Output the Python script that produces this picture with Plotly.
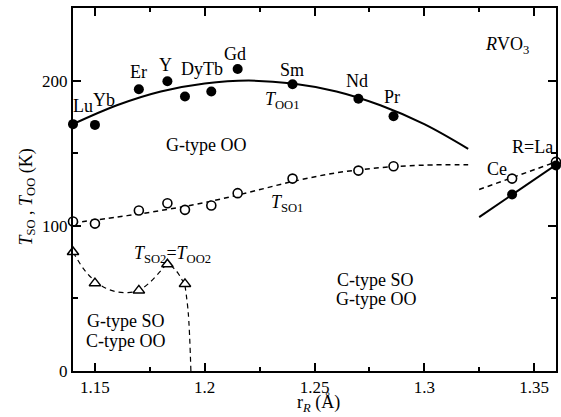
import plotly.graph_objects as go

# ---- data ----
elements = ["Lu", "Yb", "Er", "Y", "Dy", "Tb", "Gd", "Sm", "Nd", "Pr", "Ce", "La"]
r_R = [1.14, 1.15, 1.17, 1.183, 1.191, 1.203, 1.215, 1.24, 1.27, 1.286, 1.34, 1.36]
T_OO1 = [170, 169.5, 194, 199.5, 189, 192.5, 208, 197.5, 187.5, 175.5, 121.5, 141.5]
T_SO1 = [103, 101.5, 110.5, 115.5, 111, 114, 122.5, 132.5, 138, 141, 132.5, 144]

r_SO2 = [1.14, 1.15, 1.17, 1.183, 1.191]
T_SO2 = [82, 60.5, 55.5, 73.5, 60]

# guide curves
oo1_curve_x = [1.14, 1.16, 1.18, 1.20, 1.22, 1.24, 1.26, 1.28, 1.30, 1.32]
oo1_curve_y = [170, 183, 192.5, 198, 200, 198, 192.5, 183, 170, 153]
oo1_la_x = [1.325, 1.36]
oo1_la_y = [106, 142]

so1_curve_x = [1.14, 1.16, 1.18, 1.20, 1.22, 1.24, 1.26, 1.28, 1.30, 1.32]
so1_curve_y = [102, 106, 110.5, 116, 123, 130.5, 136.5, 140, 141.8, 142]
so1_la_x = [1.325, 1.36]
so1_la_y = [125, 144]

so2_curve_x = [1.14, 1.145, 1.15, 1.155, 1.16, 1.165, 1.17, 1.175, 1.18, 1.183, 1.187, 1.191]
so2_curve_y = [82, 70, 62, 57, 54.5, 54, 55.5, 61, 69, 73.5, 69, 59]
so2_drop_x = [1.191, 1.1925, 1.1937]
so2_drop_y = [59, 40, 0]

FONT = "Liberation Serif"
BLACK = "black"

fig = go.Figure()

# lines
fig.add_trace(go.Scatter(x=oo1_curve_x, y=oo1_curve_y, mode="lines", line_shape="spline",
                         line=dict(color=BLACK, width=2), hoverinfo="skip"))
fig.add_trace(go.Scatter(x=oo1_la_x, y=oo1_la_y, mode="lines",
                         line=dict(color=BLACK, width=2), hoverinfo="skip"))
fig.add_trace(go.Scatter(x=so1_curve_x, y=so1_curve_y, mode="lines", line_shape="spline",
                         line=dict(color=BLACK, width=1.5, dash="5px,4px"), hoverinfo="skip"))
fig.add_trace(go.Scatter(x=so1_la_x, y=so1_la_y, mode="lines",
                         line=dict(color=BLACK, width=1.5, dash="5px,4px"), hoverinfo="skip"))
fig.add_trace(go.Scatter(x=so2_curve_x, y=so2_curve_y, mode="lines", line_shape="spline",
                         line=dict(color=BLACK, width=1.2, dash="5px,4px"), hoverinfo="skip"))
fig.add_trace(go.Scatter(x=so2_drop_x, y=so2_drop_y, mode="lines", line_shape="spline",
                         line=dict(color=BLACK, width=1.2, dash="5px,4px"), hoverinfo="skip"))

# markers
fig.add_trace(go.Scatter(x=r_R, y=T_SO1, mode="markers", cliponaxis=False,
                         marker=dict(symbol="circle", size=9, color="white",
                                     line=dict(color=BLACK, width=1.6))))
fig.add_trace(go.Scatter(x=r_R, y=T_OO1, mode="markers", cliponaxis=False,
                         marker=dict(symbol="circle", size=10, color=BLACK)))
fig.add_trace(go.Scatter(x=r_SO2, y=T_SO2, mode="markers", cliponaxis=False,
                         marker=dict(symbol="triangle-up", size=10, color="white",
                                     line=dict(color=BLACK, width=1.5))))

# text labels
labels = [
    ("Lu", 1.1444, 182.5), ("Yb", 1.1543, 186.6), ("Er", 1.1699, 205.7), ("Y", 1.1823, 210.7),
    ("DyTb", 1.1987, 207.8), ("Gd", 1.2138, 218.3), ("Sm", 1.2398, 207.3), ("Nd", 1.2693, 199.9),
    ("Pr", 1.2852, 188.9), ("<i>T</i><sub>OO1</sub>", 1.2355, 186.0),
    ("<i>R</i>VO<sub>3</sub>", 1.3378, 224.5), ("R=La", 1.3491, 154.5), ("Ce", 1.3332, 139.1),
    ("G-type OO", 1.2007, 155.6), ("<i>T</i><sub>SO1</sub>", 1.2375, 115.5),
    ("<i>T</i><sub>SO2</sub>=<i>T</i><sub>OO2</sub>", 1.1853, 80.5),
    ("C-type SO", 1.2780, 62.7), ("G-type OO", 1.2780, 49.4),
    ("G-type SO", 1.1643, 34.6), ("C-type OO", 1.1643, 20.9),
]
for txt, x, y in labels:
    fig.add_annotation(x=x, y=y, xref="x", yref="y", text=txt, showarrow=False,
                       xanchor="center", yanchor="middle",
                       font=dict(family=FONT, size=18, color=BLACK))

# axis titles
fig.add_annotation(xref="paper", yref="paper", x=-0.095, y=0.478, textangle=-90,
                   text="<i>T</i><sub>SO</sub> , <i>T</i><sub>OO</sub> (K)", showarrow=False,
                   xanchor="center", yanchor="middle",
                   font=dict(family=FONT, size=18, color=BLACK))
fig.add_annotation(xref="paper", yref="paper", x=0.508, y=-0.090,
                   text="r<sub><i>R</i></sub> (Å)", showarrow=False,
                   xanchor="center", yanchor="middle",
                   font=dict(family=FONT, size=18, color=BLACK))

axis_common = dict(showgrid=False, zeroline=False, showline=True, linecolor=BLACK, linewidth=2,
                   mirror="allticks", ticks="inside", ticklen=8, tickwidth=1.5, tickcolor=BLACK,
                   tickfont=dict(family=FONT, size=17, color=BLACK))

fig.update_xaxes(range=[1.14, 1.36], dtick=0.05, tick0=1.15,
                 minor=dict(dtick=0.025, ticks="inside", ticklen=4, tickwidth=1.5, tickcolor=BLACK),
                 **axis_common)
fig.update_yaxes(range=[0, 250], dtick=100, tick0=0,
                 minor=dict(dtick=50, ticks="inside", ticklen=5, tickwidth=1.5, tickcolor=BLACK),
                 **axis_common)

fig.update_layout(width=561, height=417, showlegend=False,
                  margin=dict(l=73, r=3, t=8, b=46),
                  paper_bgcolor="white", plot_bgcolor="white")

fig.write_html("out.html", config={"displayModeBar": False},
               post_script="document.body.style.margin='0';document.body.style.padding='0';")
